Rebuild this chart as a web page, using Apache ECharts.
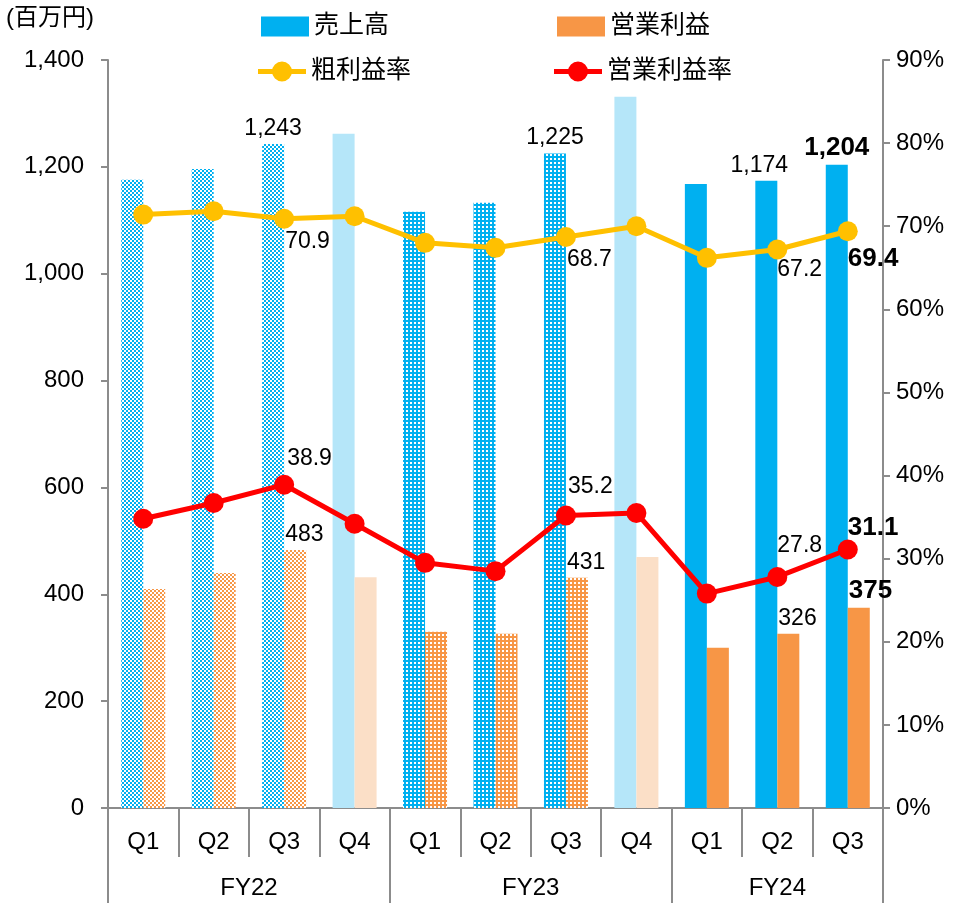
<!DOCTYPE html>
<html>
<head>
<meta charset="utf-8">
<script src="https://cdn.jsdelivr.net/npm/echarts@6/dist/echarts.min.js"></script>
<style>
html,body{margin:0;padding:0;background:#fff;}
#chart{width:963px;height:903px;}
</style>
</head>
<body>
<div id="chart"></div>
<script>
// ---- data ----
const categories = ['Q1','Q2','Q3','Q4','Q1','Q2','Q3','Q4','Q1','Q2','Q3'];
const fiscalYears = ['FY22','FY23','FY24'];
const fiscalYearCounts = [4,4,3];
const sales = [1176,1196,1243,1262,1116,1133,1225,1331,1168,1174,1204];
const opProfit = [410,440,483,432,330,326,431,470,300,326,375];
const grossMargin = [71.4,71.8,70.9,71.2,68.0,67.4,68.7,70.0,66.2,67.2,69.4];
const opMargin = [34.8,36.7,38.9,34.2,29.5,28.5,35.2,35.5,25.8,27.8,31.1];
const seriesNames = ['売上高','営業利益','粗利益率','営業利益率'];
const unitLabel = '(百万円)';
const leftAxis = {min:0, max:1400, interval:200};
const rightAxis = {min:0, max:90, interval:10};
const labelledIdx = [2,6,9,10];

// ---- styling helpers ----
const FONT = "'Liberation Sans','Noto Sans CJK JP',Arial,sans-serif";
const GREY = '#8c8c8c';
const BLUE = '#00B0F0', ORANGE = '#F79646';
const LIGHT_BLUE = '#B5E6F9', LIGHT_ORANGE = '#FBDFC7';
const LINE_ICON = 'path://M0,7.5H15V12.5H0Z M33,7.5H48V12.5H33Z M14,10A10,10 0 1,1 34,10A10,10 0 1,1 14,10Z';

function pattern(color, kind){
  const c = document.createElement('canvas');
  c.width = 4; c.height = 4;
  const ctx = c.getContext('2d');
  if (kind === 'check'){
    ctx.fillStyle = '#fff'; ctx.fillRect(0,0,4,4);
    ctx.fillStyle = color; ctx.fillRect(0,0,2,2); ctx.fillRect(2,2,2,2);
  } else {
    ctx.fillStyle = color; ctx.fillRect(0,0,4,4);
    ctx.fillStyle = '#fff'; ctx.fillRect(2,2,2,2);
  }
  return {image: c, repeat: 'repeat'};
}
// period styling: FY22 Q1-Q3 checkerboard, FY23 Q1-Q3 dotted, Q4 light, FY24 solid
function barColor(i, base, light){
  if (i === 3 || i === 7) return light;
  if (i < 3) return pattern(base, 'check');
  if (i < 7) return pattern(base, 'dots');
  return base;
}

const groupCenters = [];
(function(){ let s = 0; fiscalYearCounts.forEach(n => { groupCenters.push(s + n/2); s += n; }); })();
const groupBounds = [0];
(function(){ let s = 0; fiscalYearCounts.forEach(n => { s += n; groupBounds.push(s); }); })();

const fmtComma = v => Number(v).toLocaleString('en-US');

const salesData = sales.map((v,i) => {
  const d = {value: v, itemStyle: {color: barColor(i, BLUE, LIGHT_BLUE)}};
  if (labelledIdx.includes(i)) {
    d.label = {show: true, position: 'top', fontSize: 23, color: '#000', fontFamily: FONT,
      formatter: p => fmtComma(p.value), distance: 4};
    if (i === 9) d.label.offset = [-7, 0];
    if (i === 10) { d.label.fontWeight = 'bold'; d.label.fontSize = 26; }
  }
  return d;
});
const opData = opProfit.map((v,i) => {
  const d = {value: v, itemStyle: {color: barColor(i, ORANGE, LIGHT_ORANGE)}};
  if (labelledIdx.includes(i)) {
    d.label = {show: true, position: 'top', align: 'left', offset: [-10, 0], fontSize: 23, color: '#000', fontFamily: FONT, distance: 4};
    if (i === 10) { d.label.fontWeight = 'bold'; d.label.fontSize = 26; }
  }
  return d;
});
const gmOffsets = {2:[1,-4], 6:[1,-4], 9:[0,-6], 10:[0,0]};
const gmData = grossMargin.map((v,i) => {
  const d = {value: v};
  if (labelledIdx.includes(i)) {
    d.label = {show: true, position: 'bottom', align: 'left', offset: gmOffsets[i], fontSize: 23, color: '#000', fontFamily: FONT,
      formatter: p => p.value.toFixed(1)};
    if (i === 10) { d.label.fontWeight = 'bold'; d.label.fontSize = 26; }
  }
  return d;
});
const omOffsets = {2:[3,0], 6:[2,-2], 9:[0,-5], 10:[0,6]};
const omData = opMargin.map((v,i) => {
  const d = {value: v};
  if (labelledIdx.includes(i)) {
    d.label = {show: true, position: 'top', align: 'left', offset: omOffsets[i], fontSize: 23, color: '#000', fontFamily: FONT,
      formatter: p => p.value.toFixed(1)};
    if (i === 10) { d.label.fontWeight = 'bold'; d.label.fontSize = 26; }
  }
  return d;
});

const legendBase = {itemWidth: 48, itemHeight: 20, itemGap: 0, textStyle: {fontSize: 25, color: '#000', fontFamily: FONT}, selectedMode: false};

const option = {
  animation: false,
  backgroundColor: '#fff',
  textStyle: {fontFamily: FONT},
  grid: {left: 108, right: 80, top: 60, bottom: 95, containLabel: false},
  legend: [
    Object.assign({}, legendBase, {data: [{name: seriesNames[0], icon: 'rect'}], left: 256, top: 9}),
    Object.assign({}, legendBase, {data: [{name: seriesNames[1], icon: 'rect'}], left: 552, top: 9}),
    Object.assign({}, legendBase, {data: [{name: seriesNames[2], icon: LINE_ICON}], left: 253, top: 54}),
    Object.assign({}, legendBase, {data: [{name: seriesNames[3], icon: LINE_ICON}], left: 549, top: 54})
  ],
  graphic: [{
    type: 'text', left: 6, top: 6,
    style: {text: unitLabel, fontSize: 24, fill: '#000', fontFamily: FONT}
  }],
  xAxis: [
    {
      type: 'category', data: categories, position: 'bottom',
      axisLine: {show: true, lineStyle: {color: GREY, width: 2}},
      axisTick: {show: true, interval: 0, length: 49, lineStyle: {color: GREY, width: 2}},
      axisLabel: {interval: 0, fontSize: 24, color: '#000', margin: 22, fontFamily: FONT}
    },
    {
      type: 'value', min: 0, max: categories.length, position: 'bottom',
      axisLine: {show: false}, splitLine: {show: false},
      axisTick: {show: true, customValues: groupBounds, length: 95, lineStyle: {color: GREY, width: 2}},
      axisLabel: {customValues: groupCenters, fontSize: 24, color: '#000', margin: 68, fontFamily: FONT,
        formatter: v => fiscalYears[groupCenters.indexOf(v)] || ''}
    }
  ],
  yAxis: [
    {
      type: 'value', min: leftAxis.min, max: leftAxis.max, interval: leftAxis.interval,
      axisLine: {show: true, lineStyle: {color: GREY, width: 2}},
      axisTick: {show: true, length: 7, lineStyle: {color: GREY, width: 2}},
      splitLine: {show: false},
      axisLabel: {fontSize: 24, color: '#000', margin: 24, fontFamily: FONT, formatter: fmtComma}
    },
    {
      type: 'value', min: rightAxis.min, max: rightAxis.max, interval: rightAxis.interval, position: 'right',
      axisLine: {show: true, lineStyle: {color: GREY, width: 2}},
      axisTick: {show: true, length: 7, lineStyle: {color: GREY, width: 2}},
      splitLine: {show: false},
      axisLabel: {fontSize: 24, color: '#000', margin: 13, fontFamily: FONT, formatter: '{value}%'}
    }
  ],
  series: [
    {name: seriesNames[0], type: 'bar', xAxisIndex: 0, yAxisIndex: 0, barWidth: 22, barGap: '0%',
      itemStyle: {color: BLUE}, data: salesData},
    {name: seriesNames[1], type: 'bar', xAxisIndex: 0, yAxisIndex: 0, barWidth: 22, barGap: '0%',
      itemStyle: {color: ORANGE}, data: opData},
    {name: seriesNames[2], type: 'line', xAxisIndex: 0, yAxisIndex: 1, symbol: 'circle', symbolSize: 20,
      itemStyle: {color: '#FFC000'}, lineStyle: {color: '#FFC000', width: 5}, z: 5, data: gmData},
    {name: seriesNames[3], type: 'line', xAxisIndex: 0, yAxisIndex: 1, symbol: 'circle', symbolSize: 20,
      itemStyle: {color: '#FF0000'}, lineStyle: {color: '#FF0000', width: 5}, z: 5, data: omData}
  ]
};

const chart = echarts.init(document.getElementById('chart'), null, {renderer: 'canvas'});
chart.setOption(option);
</script>
</body>
</html>
